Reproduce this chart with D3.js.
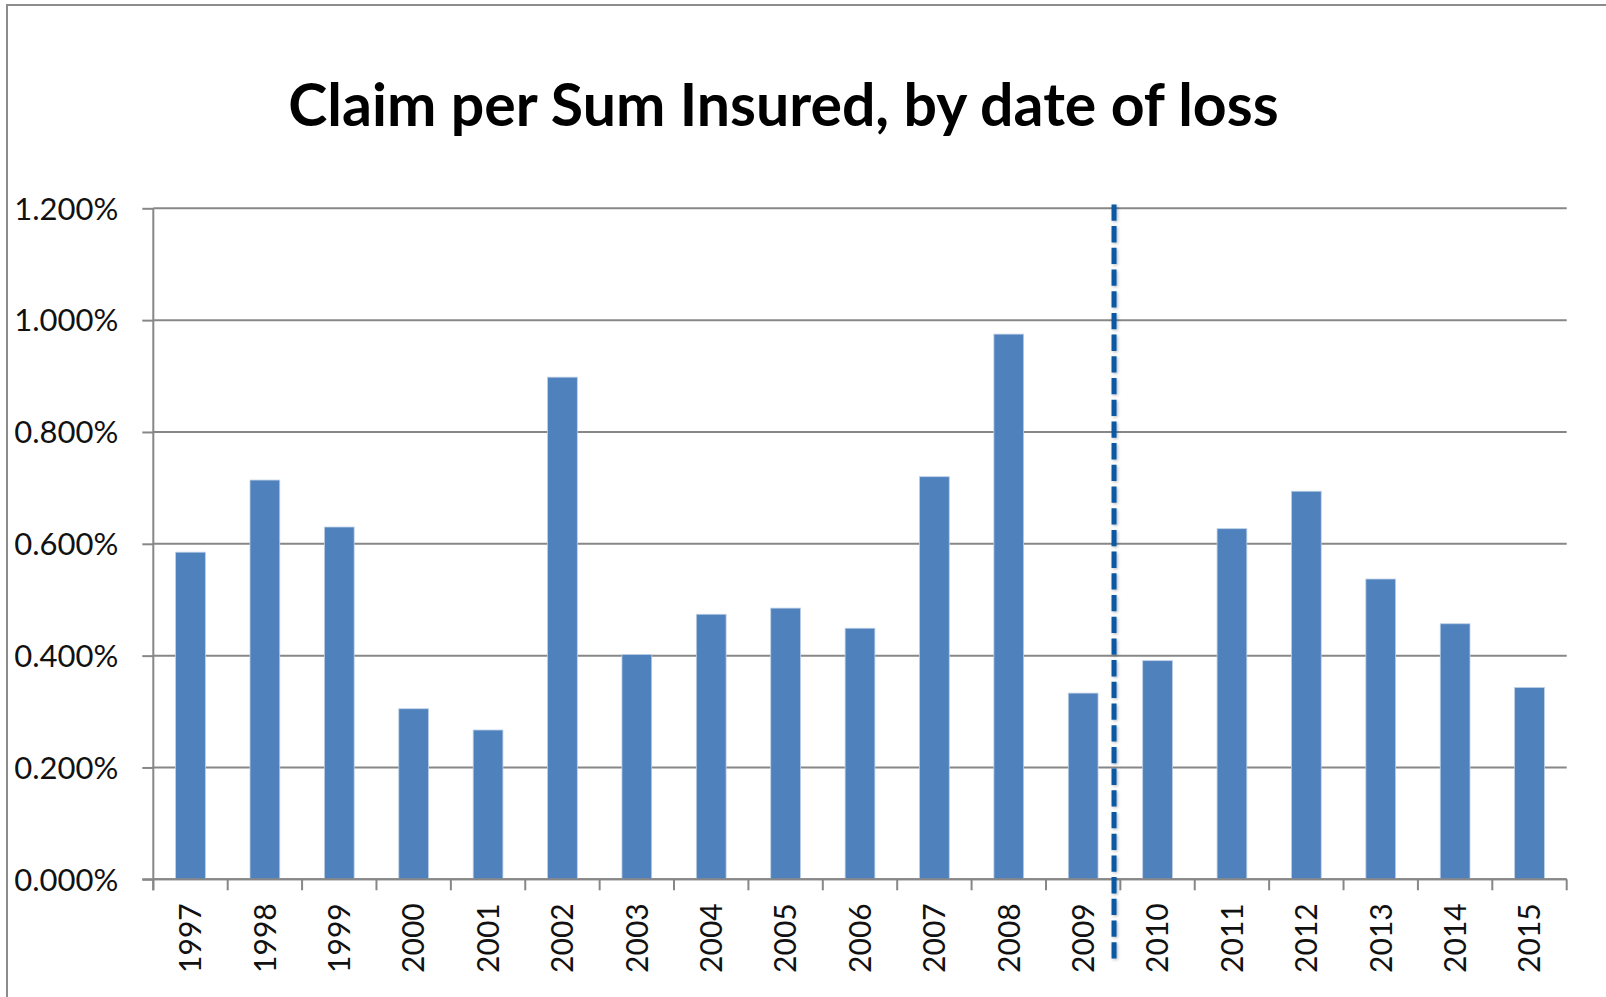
<!DOCTYPE html>
<html>
<head>
<meta charset="utf-8">
<script src="https://cdn.jsdelivr.net/npm/d3@7"></script>
<style>
  html, body { margin: 0; padding: 0; background: #ffffff; }
  svg { display: block; }
  text { font-family: Lato, "Open Sans", sans-serif; }
</style>
</head>
<body>
<svg id="chart" width="1606" height="997"></svg>
<script>
// Claim per sum insured, by year of loss (percent)
const years = ["1997","1998","1999","2000","2001","2002","2003","2004","2005","2006",
               "2007","2008","2009","2010","2011","2012","2013","2014","2015"];
const claimPct = [0.585, 0.714, 0.630, 0.305, 0.267, 0.898, 0.402, 0.474, 0.485, 0.449,
                  0.720, 0.975, 0.333, 0.391, 0.627, 0.694, 0.537, 0.457, 0.343];
const yTickValues = [0, 0.2, 0.4, 0.6, 0.8, 1.0, 1.2];
const titleText = "Claim per Sum Insured, by date of loss";

// Vertical divider drawn between 2009 and 2010 (category units, value range)
const dividerAt = 12.915;
const dividerSpan = [-0.144, 1.207];

const W = 1606, H = 997;
const margin = { left: 153.3, right: W - 1566.7, top: 208.3, bottom: H - 879.3 };

const svg = d3.select("#chart");

// soft drop shadow for the divider line
const defs = svg.append("defs");
const shadow = defs.append("filter").attr("id", "soft-shadow")
  .attr("filterUnits", "userSpaceOnUse")
  .attr("x", 0).attr("y", 0).attr("width", W).attr("height", H);
shadow.append("feDropShadow")
  .attr("dx", 1.2).attr("dy", 1.2).attr("stdDeviation", 1.4)
  .attr("flood-color", "#000").attr("flood-opacity", 0.28);

// outer chart frame (runs off the right and bottom edges)
svg.append("rect")
  .attr("x", 7).attr("y", 5)
  .attr("width", W + 20).attr("height", H + 20)
  .attr("fill", "#ffffff")
  .attr("stroke", "#8c8c8c").attr("stroke-width", 2);

const x = d3.scaleBand()
  .domain(years)
  .range([margin.left, W - margin.right])
  .paddingInner(0.6)
  .paddingOuter(0.3);

const xIdx = d3.scaleLinear()
  .domain([0, years.length])
  .range([margin.left, W - margin.right]);

const y = d3.scaleLinear()
  .domain([0, 1.2])
  .range([H - margin.bottom, margin.top]);

const gridColor = "#878787";

// left tick marks and percentage labels
const yAxis = d3.axisLeft(y)
  .tickValues(yTickValues)
  .tickSize(11)
  .tickPadding(24)
  .tickFormat(d => d3.format(".3f")(d) + "%");

const gy = svg.append("g")
  .attr("transform", `translate(${margin.left},0)`)
  .call(yAxis);
gy.select(".domain").remove();
gy.selectAll(".tick line").attr("stroke", gridColor).attr("stroke-width", 2);
gy.selectAll(".tick text")
  .attr("fill", "#111")
  .style("font-size", "31px")
  .attr("dy", "0.35em");

// horizontal gridlines
svg.append("g").selectAll("line")
  .data(yTickValues)
  .join("line")
  .attr("x1", margin.left).attr("x2", W - margin.right)
  .attr("y1", d => y(d)).attr("y2", d => y(d))
  .attr("stroke", gridColor).attr("stroke-width", 2);

// bars
svg.append("g").selectAll("rect")
  .data(years.map((yr, i) => ({ yr, v: claimPct[i] })))
  .join("rect")
  .attr("x", d => x(d.yr))
  .attr("width", x.bandwidth())
  .attr("y", d => y(d.v))
  .attr("height", d => y(0) - y(d.v))
  .attr("fill", "#4f81bd")
  .attr("stroke", "#bccfe6")
  .attr("stroke-width", 0.8);

// y axis line
svg.append("line")
  .attr("x1", margin.left).attr("x2", margin.left)
  .attr("y1", margin.top).attr("y2", y(0) + 11)
  .attr("stroke", gridColor).attr("stroke-width", 2);

// x axis line and category boundary ticks
svg.append("line")
  .attr("x1", margin.left - 11).attr("x2", W - margin.right)
  .attr("y1", y(0)).attr("y2", y(0))
  .attr("stroke", gridColor).attr("stroke-width", 2);

svg.append("g").selectAll("line")
  .data(d3.range(years.length + 1))
  .join("line")
  .attr("x1", d => xIdx(d)).attr("x2", d => xIdx(d))
  .attr("y1", y(0)).attr("y2", y(0) + 11)
  .attr("stroke", gridColor).attr("stroke-width", 2);

// rotated year labels
svg.append("g").selectAll("text")
  .data(years)
  .join("text")
  .attr("transform", d => `translate(${x(d) + x.bandwidth() / 2},${y(0) + 24}) rotate(-90)`)
  .attr("text-anchor", "end")
  .attr("dy", "0.36em")
  .attr("fill", "#111")
  .style("font-size", "30px")
  .text(d => d);

// dashed divider
svg.append("line")
  .attr("x1", xIdx(dividerAt)).attr("x2", xIdx(dividerAt))
  .attr("y1", y(dividerSpan[1])).attr("y2", y(dividerSpan[0]))
  .attr("stroke", "#0b58a3")
  .attr("stroke-width", 5)
  .attr("stroke-dasharray", "16.3,5.4")
  .attr("filter", "url(#soft-shadow)");

// title
svg.append("text")
  .attr("x", 783.5).attr("y", 126)
  .attr("text-anchor", "middle")
  .attr("fill", "#000")
  .style("font-size", "59px")
  .style("font-weight", "700")
  .text(titleText);
</script>
</body>
</html>
